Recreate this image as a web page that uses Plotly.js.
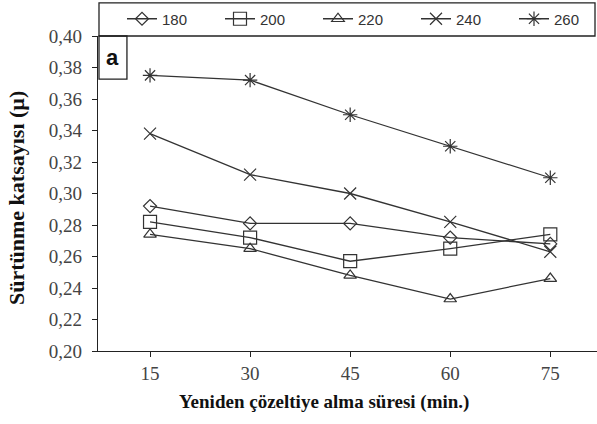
<!DOCTYPE html>
<html><head><meta charset="utf-8">
<script src="https://cdn.plot.ly/plotly-3.0.1.min.js"></script>
<style>body{margin:0;background:#fff}#chart{width:597px;height:424px}</style>
</head><body><div id="chart"></div>
<script>
const times = [15, 30, 45, 60, 75];
const seriesNames = ["180", "200", "220", "240", "260"];
const v180 = [0.292, 0.281, 0.281, 0.272, 0.268];
const v200 = [0.282, 0.272, 0.257, 0.265, 0.274];
const v220 = [0.274, 0.265, 0.248, 0.233, 0.246];
const v240 = [0.338, 0.312, 0.300, 0.282, 0.263];
const v260 = [0.375, 0.372, 0.350, 0.330, 0.310];
const yTicks = [0.20,0.22,0.24,0.26,0.28,0.30,0.32,0.34,0.36,0.38,0.40];

const values = [v180, v200, v220, v240, v260];
const symbols = ["diamond-open", "square-open", "triangle-up-open", "x-thin-open", "asterisk-open"];
const sizes = [10, 13, 11, 12, 12];
const traces = values.map((v, i) => ({
  x: times, y: v, name: seriesNames[i], type: "scatter", mode: "lines+markers",
  line: {color: "#333", width: 1.3},
  marker: {symbol: symbols[i], size: sizes[i], color: "#333", line: {color: "#333", width: 1.2}}
}));

const serif = "Liberation Serif, Times New Roman, serif";
const layout = {
  width: 597, height: 424,
  margin: {l: 98, r: 0, t: 36, b: 73},
  paper_bgcolor: "#fff", plot_bgcolor: "#fff",
  separators: ",.",
  showlegend: true,
  legend: {orientation: "h", xref: "container", yref: "container",
    x: 122 / 597, xanchor: "left", y: 1 - 19 / 424, yanchor: "middle",
    font: {family: "Liberation Sans, Arial, sans-serif", size: 15, color: "#333"},
    bgcolor: "rgba(0,0,0,0)", borderwidth: 0, entrywidth: 53, entrywidthmode: "pixels",
    traceorder: "normal"},
  xaxis: {range: [7.2, 82.0], tickvals: times, ticktext: times.map(String),
    showgrid: false, zeroline: false, showline: true, linecolor: "#222", linewidth: 1.3,
    ticks: "outside", ticklen: 5, tickcolor: "#222",
    tickfont: {family: serif, size: 19, color: "#444"}},
  yaxis: {range: [0.20, 0.40], tickvals: yTicks, tickformat: ".2f",
    showgrid: false, zeroline: false, showline: true, linecolor: "#222", linewidth: 1.3,
    ticks: "outside", ticklen: 5, tickcolor: "#222", ticklabelstandoff: 6,
    tickfont: {family: serif, size: 19, color: "#444"}},
  shapes: [
    {type: "rect", xref: "paper", yref: "paper", x0: 0.002, x1: 0.996, y0: 1, y1: 1.105,
      line: {color: "#222", width: 1.3}, fillcolor: "rgba(0,0,0,0)"},
    {type: "rect", xref: "paper", yref: "paper", x0: 0.002, x1: 0.058, y0: 0.863, y1: 1,
      line: {color: "#222", width: 1.3}, fillcolor: "rgba(0,0,0,0)"}
  ],
  annotations: [
    {text: "<b>a</b>", xref: "paper", yref: "paper", x: 0.03, y: 0.932, showarrow: false,
      xanchor: "center", yanchor: "middle",
      font: {family: "Liberation Sans, Arial, sans-serif", size: 22, color: "#111"}},
    {text: "<b>Yeniden çözeltiye alma süresi (min.)</b>", xref: "paper", yref: "paper",
      x: (324 - 98) / 499, y: -0.162, showarrow: false, xanchor: "center", yanchor: "middle",
      font: {family: serif, size: 19, color: "#111"}},
    {text: "<b>Sürtünme katsayısı (µ)</b>", xref: "paper", yref: "paper", textangle: -90,
      x: (17 - 98) / 499, y: (351 - 198) / 315, showarrow: false, xanchor: "center", yanchor: "middle",
      font: {family: serif, size: 22, color: "#111"}}
  ]
};
Plotly.newPlot("chart", traces, layout, {staticPlot: true, displayModeBar: false});
</script></body></html>
